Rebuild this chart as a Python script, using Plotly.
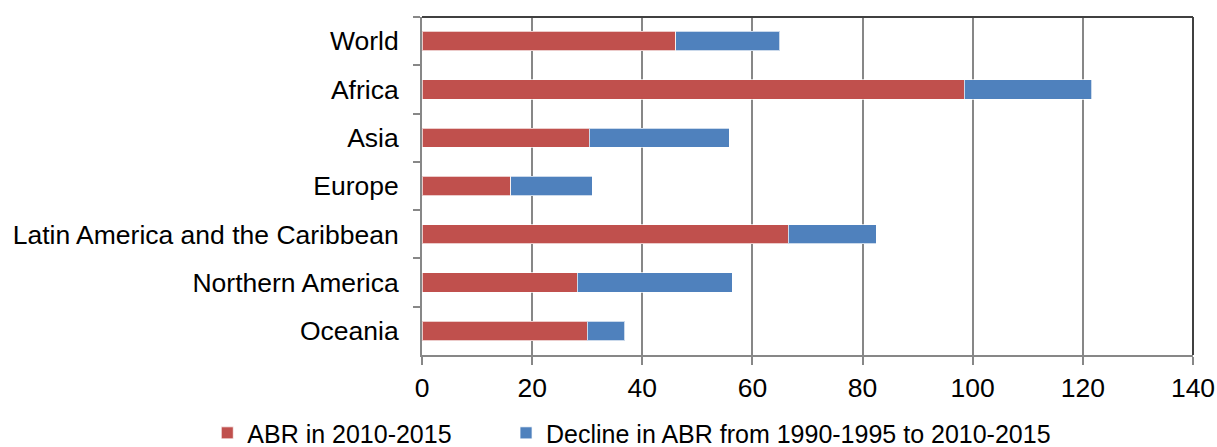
import plotly.graph_objects as go

regions = ["World", "Africa", "Asia", "Europe", "Latin America and the Caribbean",
           "Northern America", "Oceania"]
abr_2010_2015 = [46.1, 98.5, 30.4, 16.1, 66.5, 28.2, 30.0]
decline_1990_2015 = [18.9, 23.1, 25.4, 14.8, 16.0, 28.1, 6.8]
x_ticks = [0, 20, 40, 60, 80, 100, 120, 140]

RED = "#C0504D"
BLUE = "#4F81BD"
FONT = "Liberation Sans, Arial, sans-serif"
FS = 26.5
LFS = 25

fig = go.Figure()
fig.add_trace(go.Bar(
    y=regions, x=abr_2010_2015, orientation="h", name="ABR in 2010-2015",
    marker=dict(color=RED, line=dict(color="rgba(255,255,255,0.7)", width=1)),
    legend="legend",
))
fig.add_trace(go.Bar(
    y=regions, x=decline_1990_2015, orientation="h",
    name="Decline in ABR from 1990-1995 to 2010-2015",
    marker=dict(color=BLUE, line=dict(color="rgba(255,255,255,0.7)", width=1)),
    legend="legend2",
))

legend_common = dict(orientation="h", xref="paper", yref="paper", xanchor="left",
                     y=-0.163, yanchor="top", font=dict(size=LFS), itemwidth=30,
                     bgcolor="rgba(0,0,0,0)")

fig.update_layout(
    barmode="stack",
    bargap=0.6,
    width=1217, height=447,
    margin=dict(l=422, r=24, t=17, b=92, autoexpand=False),
    paper_bgcolor="white", plot_bgcolor="white",
    font=dict(family=FONT, size=FS, color="black"),
    showlegend=True,
    legend=dict(x=-0.2785, **legend_common),
    legend2=dict(x=0.109, **legend_common),
    xaxis=dict(range=[0, 140], tickvals=x_ticks, showgrid=True, gridcolor="#878787",
               gridwidth=1.5, showline=True, linecolor="#878787", linewidth=2,
               ticks="outside", ticklen=8, tickcolor="#878787", tickwidth=1.5,
               zeroline=False, tickfont=dict(size=FS), ticklabelstandoff=0,
               automargin=False),
    yaxis=dict(categoryorder="array", categoryarray=regions, autorange="reversed",
               showgrid=False, showline=True, linecolor="#878787", linewidth=2,
               ticks="outside", ticklen=7, tickcolor="#878787", tickwidth=1.5,
               tickson="boundaries", tickfont=dict(size=FS), ticklabelstandoff=16,
               automargin=False),
    shapes=[
        dict(type="line", xref="paper", yref="paper", x0=0, x1=1, y0=1, y1=1,
             line=dict(color="#404040", width=2)),
        dict(type="line", xref="paper", yref="paper", x0=1, x1=1, y0=0, y1=1,
             line=dict(color="#404040", width=2)),
    ],
)

fig.write_html("out.html", config={"displayModeBar": False},
               post_script="document.body.style.margin='0px';document.body.style.overflow='hidden';")
